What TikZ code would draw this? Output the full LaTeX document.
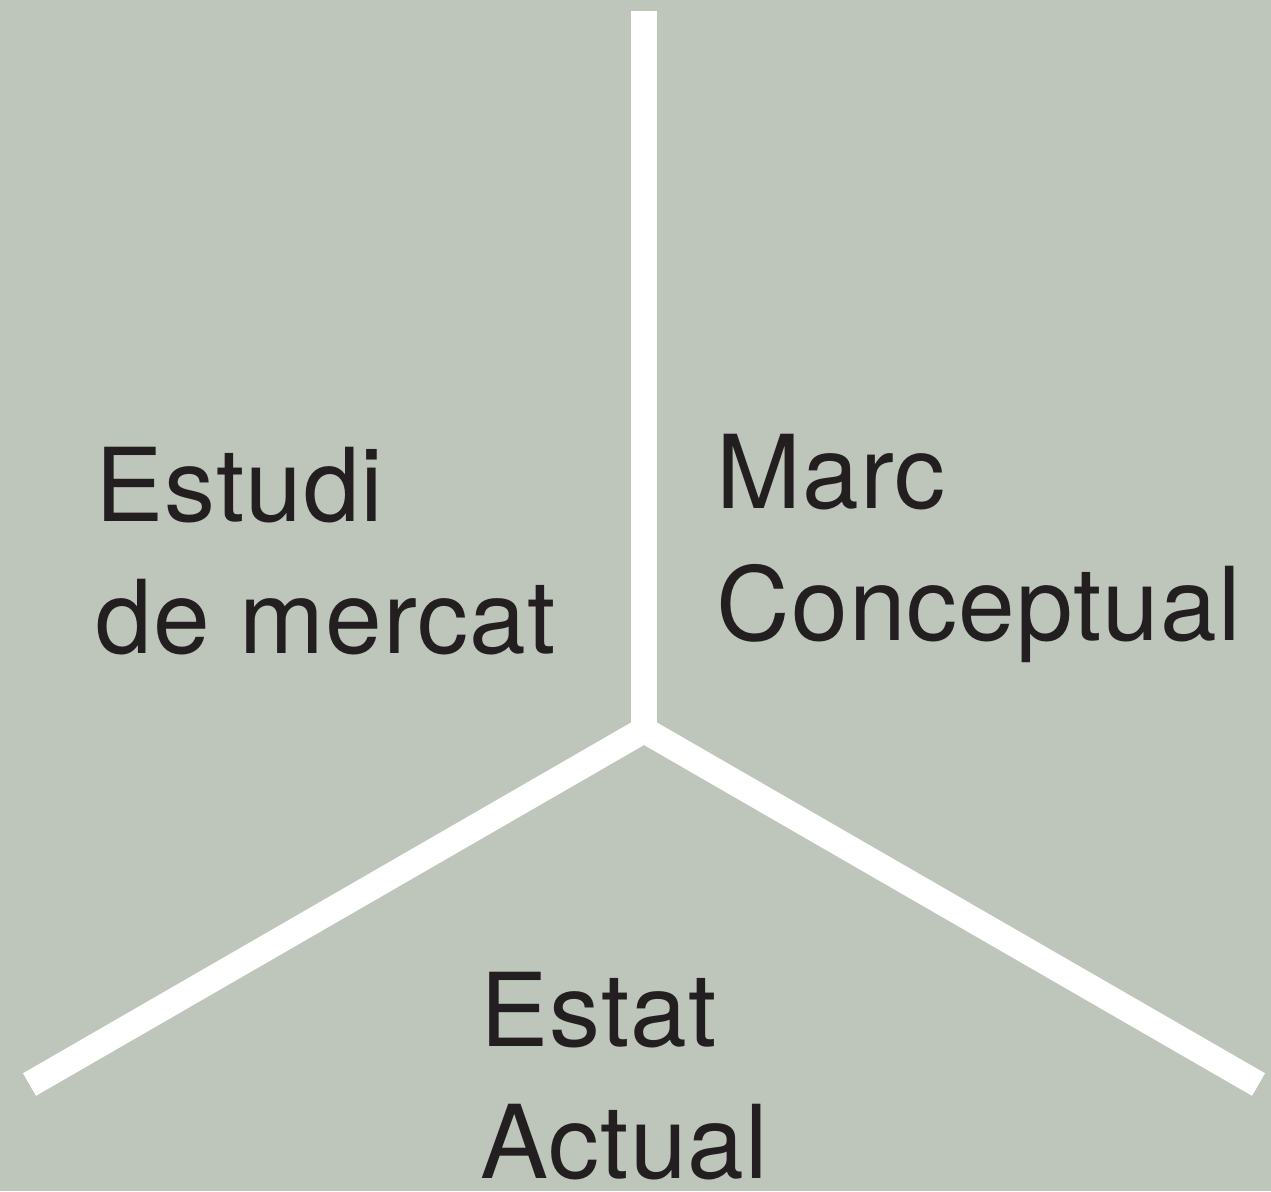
\documentclass[tikz,border=0pt]{standalone}
\usepackage{fontspec}
\setmainfont{TeX Gyre Heros}[LetterSpace=1]
\usepackage{tikz}
\usetikzlibrary{positioning}

\definecolor{sage}{RGB}{190,197,186}
\definecolor{ink}{RGB}{35,31,32}

\begin{document}
\begin{tikzpicture}
	\fill[sage] (0,0) rectangle (12.71,-11.91);
	\useasboundingbox (0,0) rectangle (12.71,-11.91);
	\begin{scope}[every path/.style={draw=white, line width=0.26cm}]
		\coordinate (hub) at (6.44,-7.30);
		\coordinate (up) at (6.44,-0.11);
		\coordinate (sw) at (0.295,-10.845);
		\coordinate (se) at (12.585,-10.845);
		\path (up) -- (hub);
		\path (hub) -- (sw);
		\path (hub) -- (se);
	\end{scope}
	% base anchor sits on the last line
	\begin{scope}[every node/.style={anchor=base west, inner sep=0pt, align=left, text=ink,
	              font=\fontsize{29}{37.4}\selectfont}]
		\node (estudi) at (0.95,-6.53) {Estudi\\de mercat};
		\node (marc) at (7.16,-6.40) {Marc\\Conceptual};
		\node (estat) at (4.80,-11.78) {Estat\\Actual};
	\end{scope}
\end{tikzpicture}
\end{document}
